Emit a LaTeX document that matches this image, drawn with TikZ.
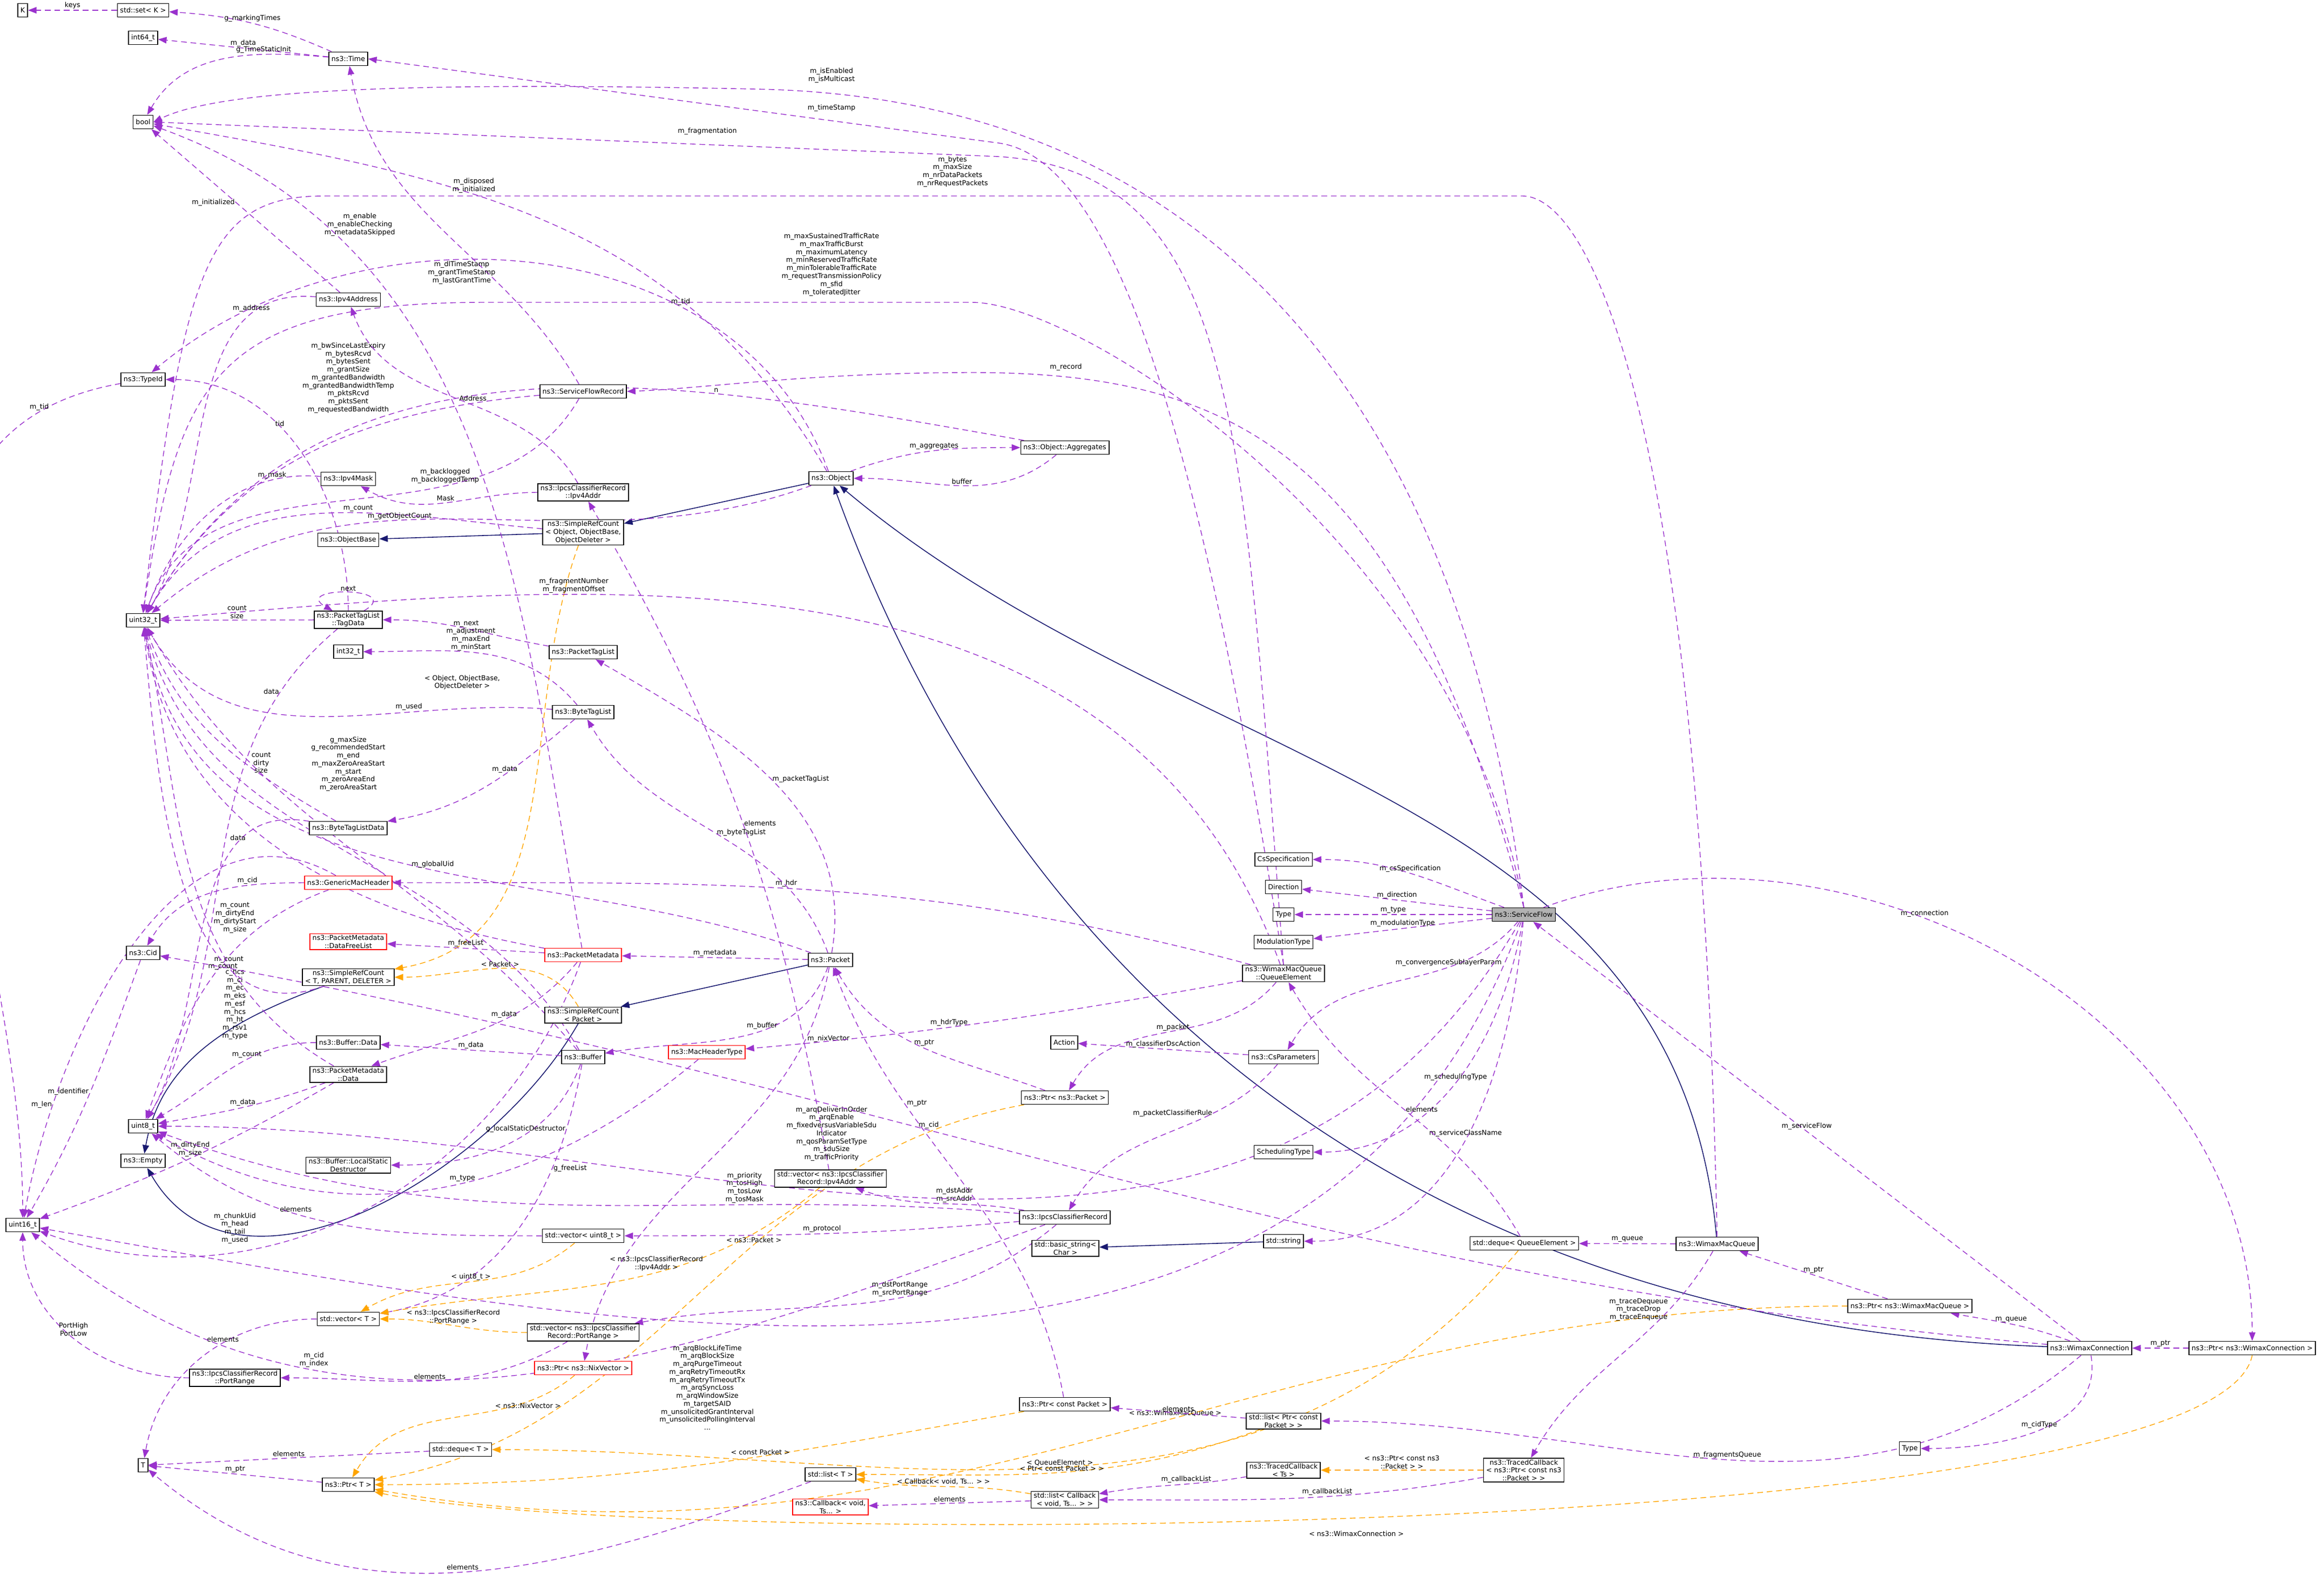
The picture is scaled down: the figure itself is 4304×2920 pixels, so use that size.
\documentclass[tikz,border=0pt]{standalone}
\usepackage{fontspec}
\setmainfont{DejaVu Sans}
\usetikzlibrary{arrows.meta}
\pgfdeclarelayer{bg}
\pgfsetlayers{bg,main}
\definecolor{pu}{RGB}{154,50,205}
\definecolor{og}{RGB}{255,165,0}
\definecolor{nv}{RGB}{25,25,112}
\tikzset{
 cls/.style={draw=black,line width=0.45pt,fill=white,minimum height=0.25cm,inner xsep=1.4pt,inner ysep=0.7pt,align=center,font=\fontsize{3.6}{4.2}\selectfont},
 redcls/.style={cls,draw=red},
 grcls/.style={cls,fill=black!30},
 pl/.style={draw=pu,dash pattern=on 3pt off 2pt,line width=0.4pt,-{Triangle[length=4.5pt,width=3.4pt]},fill=none},
 ol/.style={pl,draw=og},
 nl/.style={draw=nv,line width=0.45pt,-{Triangle[length=4.5pt,width=3.4pt]}},
 lbl/.style={font=\fontsize{3.6}{4.2}\selectfont,align=center,inner sep=0.6pt,text=black}
}
\begin{document}
\begin{tikzpicture}[x=0.01cm,y=-0.01cm]
\useasboundingbox (0,0) rectangle (4304,2920);
% nodes
\node[cls] (K) at (42,19) {K};
\node[cls] (setK) at (265,19) {std::set< K >};
\node[cls] (i64) at (265,70) {int64\_t};
\node[cls] (time) at (645,109) {ns3::Time};
\node[cls] (bool) at (265,226) {bool};
\node[cls] (typeid) at (265,703) {ns3::TypeId};
\node[cls] (ip4a) at (645,555) {ns3::Ipv4Address};
\node[cls] (sfr) at (1080,725) {ns3::ServiceFlowRecord};
\node[cls] (ip4m) at (645,887) {ns3::Ipv4Mask};
\node[cls] (ip4addr) at (1080,912) {ns3::IpcsClassifierRecord\\::Ipv4Addr};
\node[cls] (srco) at (1080,986) {ns3::SimpleRefCount\\< Object, ObjectBase,\\ObjectDeleter >};
\node[cls] (objbase) at (645,1000) {ns3::ObjectBase};
\node[cls] (obj) at (1539,886) {ns3::Object};
\node[cls] (aggr) at (1972,829) {ns3::Object::Aggregates};
\node[cls] (u32) at (265,1149) {uint32\_t};
\node[cls] (tagdata) at (645,1148) {ns3::PacketTagList\\::TagData};
\node[cls] (i32) at (645,1207) {int32\_t};
\node[cls] (ptl) at (1080,1208) {ns3::PacketTagList};
\node[cls] (btl) at (1080,1319) {ns3::ByteTagList};
\node[cls] (btld) at (645,1534) {ns3::ByteTagListData};
\node[redcls] (gmh) at (645,1635) {ns3::GenericMacHeader};
\node[cls] (cid) at (265,1765) {ns3::Cid};
\node[redcls] (dfl) at (645,1744) {ns3::PacketMetadata\\::DataFreeList};
\node[redcls] (pmd) at (1080,1769) {ns3::PacketMetadata};
\node[cls] (srct) at (645,1810) {ns3::SimpleRefCount\\< T, PARENT, DELETER >};
\node[cls] (srcp) at (1080,1880) {ns3::SimpleRefCount\\< Packet >};
\node[cls] (pkt) at (1538,1778) {ns3::Packet};
\node[cls] (csspec) at (2377,1592) {CsSpecification};
\node[cls] (dir) at (2377,1643) {Direction};
\node[cls] (type1) at (2377,1694) {Type};
\node[cls] (modt) at (2377,1745) {ModulationType};
\node[cls] (qe) at (2377,1803) {ns3::WimaxMacQueue\\::QueueElement};
\node[redcls] (mht) at (1309,1949) {ns3::MacHeaderType};
\node[cls] (bdata) at (645,1931) {ns3::Buffer::Data};
\node[cls] (pmdd) at (645,1990) {ns3::PacketMetadata\\::Data};
\node[cls] (buf) at (1080,1958) {ns3::Buffer};
\node[cls] (u8) at (265,2086) {uint8\_t};
\node[cls] (empty) at (265,2150) {ns3::Empty};
\node[cls] (lsd) at (645,2158) {ns3::Buffer::LocalStatic\\Destructor};
\node[cls] (u16) at (42,2269) {uint16\_t};
\node[cls] (vu8) at (1080,2289) {std::vector< uint8\_t >};
\node[cls] (vT) at (645,2443) {std::vector< T >};
\node[cls] (vpr) at (1080,2468) {std::vector< ns3::IpcsClassifier\\Record::PortRange >};
\node[cls] (pr) at (435,2552) {ns3::IpcsClassifierRecord\\::PortRange};
\node[redcls] (pnix) at (1080,2534) {ns3::Ptr< ns3::NixVector >};
\node[cls] (dqT) at (853,2685) {std::deque< T >};
\node[cls] (T) at (265,2714) {T};
\node[cls] (ptrT) at (645,2750) {ns3::Ptr< T >};
\node[cls] (action) at (1971,1931) {Action};
\node[cls] (csp) at (2377,1958) {ns3::CsParameters};
\node[cls] (pptk) at (1972,2033) {ns3::Ptr< ns3::Packet >};
\node[cls] (schedt) at (2377,2134) {SchedulingType};
\node[cls] (vip) at (1538,2183) {std::vector< ns3::IpcsClassifier\\Record::Ipv4Addr >};
\node[cls] (icr) at (1972,2255) {ns3::IpcsClassifierRecord};
\node[cls] (bstr) at (1973,2312) {std::basic\_string<\\Char >};
\node[cls] (str) at (2377,2299) {std::string};
\node[cls] (dqqe) at (2823,2303) {std::deque< QueueElement >};
\node[cls] (pcpk) at (1972,2601) {ns3::Ptr< const Packet >};
\node[cls] (lpcp) at (2377,2632) {std::list< Ptr< const\\Packet > >};
\node[cls] (tcts) at (2377,2723) {ns3::TracedCallback\\< Ts >};
\node[cls] (lT) at (1538,2731) {std::list< T >};
\node[cls] (lcb) at (1972,2778) {std::list< Callback\\< void, Ts... > >};
\node[redcls] (cb) at (1538,2791) {ns3::Callback< void,\\Ts... >};
\node[cls] (tcp) at (2822,2723) {ns3::TracedCallback\\< ns3::Ptr< const ns3\\::Packet > >};
\node[grcls] (sf) at (2822,1694) {ns3::ServiceFlow};
\node[cls] (wmq) at (3180,2304) {ns3::WimaxMacQueue};
\node[cls] (pwmq) at (3537,2419) {ns3::Ptr< ns3::WimaxMacQueue >};
\node[cls] (wc) at (3870,2497) {ns3::WimaxConnection};
\node[cls] (pwc) at (4171,2497) {ns3::Ptr< ns3::WimaxConnection >};
\node[cls] (type2) at (3537,2683) {Type};

\begin{pgfonlayer}{bg}
% inheritance
\draw[nl] (obj) -- (srco);
\draw[nl] (srco) -- (objbase);
\draw[nl] (pkt) -- (srcp);
\draw[nl] (srct) to[out=200,in=80] (empty);
\draw[nl] (srcp) to[out=240,in=-60] (empty);
\draw[nl] (str) -- (bstr);
\draw[nl] (wmq) to[out=95,in=-40] (obj);
\draw[nl] (wc) to[out=178,in=-70] (obj);

% long routed members with free labels
\draw[pl] (sf.north) .. controls (2700,700) and (2200,180) .. (1400,165) .. controls (700,150) and (400,170) .. (bool.east);
\node[lbl] (lb1) at (1540,140) {m\_isEnabled\\m\_isMulticast};
\draw[pl] (qe.north) .. controls (2250,1000) and (2100,300) .. (1850,265) -- (time.east);
\node[lbl] (lb2) at (1540,200) {m\_timeStamp};
\draw[pl] (qe.north) .. controls (2300,800) and (2300,320) .. (1850,290) -- (bool.east);
\node[lbl] (lb3) at (1310,243) {m\_fragmentation};
\draw[pl] (wmq.north) .. controls (3150,800) and (2950,365) .. (2820,363) -- (600,363) .. controls (380,363) and (340,500) .. (u32.north);
\node[lbl] (lb4) at (1764,318) {m\_bytes\\m\_maxSize\\m\_nrDataPackets\\m\_nrRequestPackets};
\draw[pl] (sf.north) .. controls (2700,1000) and (2000,560) .. (1800,560) -- (900,560) .. controls (400,560) and (330,700) .. (u32.north);
\node[lbl] (lb5) at (1540,490) {m\_maxSustainedTrafficRate\\m\_maxTrafficBurst\\m\_maximumLatency\\m\_minReservedTrafficRate\\m\_minTolerableTrafficRate\\m\_requestTransmissionPolicy\\m\_sfid\\m\_toleratedJitter};
\draw[pl] (sf.north) .. controls (2600,850) and (2300,690) .. (1800,690) .. controls (1500,690) and (1300,720) .. (sfr.east);
\node[lbl] (lb6) at (1974,680) {m\_record};
\draw[ol] (srco) to[out=-110,in=10] (srct);
\node[lbl] (lb7) at (856,1264) {< Object, ObjectBase,\\ObjectDeleter >};
\draw[ol] (pwc.south) .. controls (4100,2860) and (1200,2870) .. (ptrT.south east);
\node[lbl] (lb8) at (2512,2841) {< ns3::WimaxConnection >};

% members
\draw[pl] (setK) -- node[lbl,above]{keys} (K);
\draw[pl] (time) to[bend right=10] node[lbl,above]{g\_markingTimes} (setK);
\draw[pl] (time) -- node[lbl,above]{m\_data} (i64);
\draw[pl] (time) to[out=175,in=60] node[lbl,above,pos=.3]{g\_TimeStaticInit} (bool);
\draw[pl] (obj) to[out=120,in=-10] node[lbl,pos=.6,above]{m\_disposed\\m\_initialized} (bool);
\draw[pl] (ip4a) -- node[lbl,pos=.55,left]{m\_initialized} (bool);
\draw[pl] (pmd) to[out=100,in=-20] node[lbl,pos=.8,right]{m\_enable\\m\_enableChecking\\m\_metadataSkipped} (bool);
\draw[pl] (obj) to[out=110,in=40] node[lbl,pos=.3,above]{m\_tid} (typeid);
\draw[pl] (sfr) to[out=120,in=-80] (time);
\node[lbl] (lb9) at (855,505) {m\_dlTimeStamp\\m\_grantTimeStamp\\m\_lastGrantTime};
\draw[pl] (ip4a) to[out=175,in=60] node[lbl,pos=.2,above]{m\_address} (u32);
\draw[pl] (typeid) to[out=190,in=90] node[lbl,pos=.1,above]{m\_tid} (u16);
\draw[pl] (tagdata) to[out=90,in=0] node[lbl,pos=.6,above]{tid} (typeid);
\draw[pl] (sfr) to[out=185,in=60] (u32);
\node[lbl] (lb10) at (645,700) {m\_bwSinceLastExpiry\\m\_bytesRcvd\\m\_bytesSent\\m\_grantSize\\m\_grantedBandwidth\\m\_grantedBandwidthTemp\\m\_pktsRcvd\\m\_pktsSent\\m\_requestedBandwidth};
\draw[pl] (qe) to[out=110,in=5] node[lbl,pos=.7,above]{m\_fragmentNumber\\m\_fragmentOffset} (u32);
\draw[pl] (aggr) to[out=170,in=60] node[lbl,pos=.3,above]{n} (u32);
\draw[pl] (ip4m) to[out=175,in=70] node[lbl,pos=.2,above]{m\_mask} (u32);
\draw[pl] (ip4addr) to[out=120,in=-70] node[lbl,pos=.5,right]{Address} (ip4a);
\draw[pl] (ip4addr) to[out=180,in=-30] node[lbl,pos=.5,above]{Mask} (ip4m);
\draw[pl] (sfr) to[out=240,in=70] node[lbl,pos=.25,left]{m\_backlogged\\m\_backloggedTemp} (u32);
\draw[pl] (gmh) to[out=150,in=80] node[lbl,pos=.8,left]{m\_len} (u16);
\draw[pl] (srco) to[out=175,in=60] node[lbl,pos=.4,above]{m\_count} (u32);
\draw[pl] (obj) to[out=200,in=40] node[lbl,pos=.6,above]{m\_getObjectCount} (u32);
\draw[pl] (obj) to[out=20,in=180] node[lbl,above]{m\_aggregates} (aggr);
\draw[pl] (aggr) to[out=220,in=0] node[lbl,above]{buffer} (obj);
\draw[pl] (tagdata) -- node[lbl,above]{count\\size} (u32);
\draw[pl] (tagdata) to[out=30,in=150,looseness=4] node[lbl,above]{next} (tagdata);
\draw[pl] (tagdata) to[out=220,in=60] node[lbl,pos=.15,left]{data} (u8);
\draw[pl] (ptl) to[out=170,in=0] node[lbl,above]{m\_next} (tagdata);
\draw[pl] (btl) to[out=130,in=0] node[lbl,pos=.55,above]{m\_adjustment\\m\_maxEnd\\m\_minStart} (i32);
\draw[pl] (btl) to[out=175,in=-60] node[lbl,pos=.3,above]{m\_used} (u32);
\draw[pl] (buf) to[out=130,in=-60] node[lbl,pos=.55,above]{m\_maxSize} (u32);
\draw[pl] (btl) to[out=220,in=10] node[lbl,pos=.4,above]{m\_data} (btld);
\draw[pl] (btld) to[out=150,in=-70] node[lbl,pos=.3,above]{count\\dirty\\size} (u32);
\draw[pl] (btld) to[out=170,in=60] node[lbl,pos=.25,above]{data} (u8);
\draw[pl] (buf) to[out=120,in=-75] (u32);
\node[lbl] (lb11) at (645,1415) {g\_maxSize\\g\_recommendedStart\\m\_end\\m\_maxZeroAreaStart\\m\_start\\m\_zeroAreaEnd\\m\_zeroAreaStart};
\draw[pl] (pmdd) to[out=150,in=-78] node[lbl,pos=.3,above]{m\_count} (u32);
\draw[pl] (gmh) to[out=180,in=60] node[lbl,pos=.3,above]{m\_cid} (cid);
\draw[pl] (pkt) to[out=160,in=-80] node[lbl,pos=.45,above]{m\_globalUid} (u32);
\draw[pl] (qe) to[out=165,in=0] node[lbl,pos=.55,above]{m\_hdr} (gmh);
\draw[pl] (pmd) to[out=170,in=-82] (u32);
\node[lbl] (lb12) at (435,1700) {m\_count\\m\_dirtyEnd\\m\_dirtyStart\\m\_size};
\draw[pl] (gmh) to[out=200,in=70] (u8);
\node[lbl] (lb13) at (435,1860) {c\_hcs\\m\_ci\\m\_ec\\m\_eks\\m\_esf\\m\_hcs\\m\_ht\\m\_rsv1\\m\_type};
\draw[pl] (pmd) -- node[lbl,above]{m\_freeList} (dfl);
\draw[pl] (pkt) -- node[lbl,above]{m\_metadata} (pmd);
\draw[ol] (srcp) to[out=120,in=0] node[lbl,above,pos=.5]{< Packet >} (srct);
\draw[pl] (pmd) to[out=230,in=20] node[lbl,pos=.4,above]{m\_data} (pmdd);
\draw[pl] (srct) to[out=200,in=-85] node[lbl,pos=.3,below]{m\_count} (u32);
\draw[pl] (pkt) to[out=80,in=-30] node[lbl,pos=.5,right]{m\_packetTagList} (ptl);
\draw[pl] (pkt) to[out=110,in=-60] node[lbl,pos=.5,right]{m\_byteTagList} (btl);
\draw[pl] (pkt) to[out=250,in=10] node[lbl,pos=.4,above]{m\_buffer} (buf);
\draw[pl] (pkt) to[out=260,in=80] node[lbl,pos=.15,right]{m\_nixVector} (pnix);
\draw[pl] (buf) -- node[lbl,above]{m\_data} (bdata);
\draw[pl] (bdata) to[out=180,in=30] node[lbl,pos=.4,above]{m\_count} (u8);
\draw[pl] (pmdd) to[out=200,in=10] node[lbl,pos=.5,above]{m\_data} (u8);
\draw[pl] (buf) to[out=250,in=0] node[lbl,pos=.4,above]{g\_localStaticDestructor} (lsd);
\draw[pl] (buf) to[out=260,in=10] node[lbl,pos=.3,right]{g\_freeList} (vT);
\draw[pl] (mht) to[out=220,in=-30] node[lbl,pos=.45,above]{m\_type} (u8);
\draw[pl] (pmdd) to[out=210,in=20] node[lbl,pos=.5,above]{m\_dirtyEnd\\m\_size} (u16);
\draw[pl] (pmd) to[out=250,in=-20] (u16);
\node[lbl] (lb14) at (435,2275) {m\_chunkUid\\m\_head\\m\_tail\\m\_used};
\draw[pl] (icr) to[out=175,in=-20] node[lbl,pos=.3,above]{m\_priority\\m\_tosHigh\\m\_tosLow\\m\_tosMask} (u8);
\draw[pl] (icr) to[out=185,in=0] node[lbl,pos=.5,above]{m\_protocol} (vu8);
\draw[ol] (vu8) to[out=220,in=30] node[lbl,pos=.5,above]{< uint8\_t >} (vT);
\draw[pl] (vu8) to[out=180,in=-40] node[lbl,pos=.6,above]{elements} (u8);
\draw[ol] (vip) to[out=220,in=10] node[lbl,pos=.4,above]{< ns3::IpcsClassifierRecord\\::Ipv4Addr >} (vT);
\draw[pl] (vip) to[out=100,in=-60] node[lbl,pos=.5,right]{elements} (ip4addr);
\draw[ol] (vpr) to[out=180,in=0] node[lbl,pos=.5,above]{< ns3::IpcsClassifierRecord\\::PortRange >} (vT);
\draw[pl] (vpr) to[out=210,in=0] node[lbl,pos=.5,above]{elements} (pr);
\draw[pl] (vT) to[out=180,in=80] node[lbl,pos=.4,above]{elements} (T);
\draw[pl] (icr) to[out=200,in=-40] node[lbl,pos=.7,above]{m\_cid\\m\_index} (u16);
\draw[pl] (pr) to[out=180,in=-90] node[lbl,pos=.5,above]{PortHigh\\PortLow} (u16);
\draw[pl] (cid) to[out=250,in=60] node[lbl,pos=.5,left]{m\_identifier} (u16);
\draw[pl] (sf) to[out=250,in=-10] (u16);
\node[lbl] (lb15) at (1310,2570) {m\_arqBlockLifeTime\\m\_arqBlockSize\\m\_arqPurgeTimeout\\m\_arqRetryTimeoutRx\\m\_arqRetryTimeoutTx\\m\_arqSyncLoss\\m\_arqWindowSize\\m\_targetSAID\\m\_unsolicitedGrantInterval\\m\_unsolicitedPollingInterval\\...};
\draw[ol] (pnix) to[out=220,in=60] node[lbl,pos=.2,below]{< ns3::NixVector >} (ptrT);
\draw[pl] (dqT) -- node[lbl,above]{elements} (T);
\draw[pl] (ptrT) -- node[lbl,above]{m\_ptr} (T);
\draw[ol] (dqqe) to[out=230,in=0] node[lbl,pos=.5,above]{< QueueElement >} (dqT);
\draw[ol] (pptk) to[out=190,in=10] node[lbl,pos=.4,above]{< ns3::Packet >} (ptrT);
\draw[ol] (pcpk) to[out=190,in=0] node[lbl,pos=.4,above]{< const Packet >} (ptrT);
\draw[ol] (pwmq) to[out=180,in=-10] node[lbl,pos=.45,above]{< ns3::WimaxMacQueue >} (ptrT);
\draw[pl] (lT) to[out=200,in=-40] node[lbl,pos=.5,above]{elements} (T);
\draw[pl] (lcb) -- node[lbl,above]{elements} (cb);
\draw[ol] (lpcp) to[out=200,in=0] node[lbl,pos=.5,above]{< Ptr< const Packet > >} (lT);
\draw[ol] (lcb) to[out=170,in=-10] node[lbl,pos=.5,above]{< Callback< void, Ts... > >} (lT);
\draw[pl] (lpcp) -- node[lbl,above]{elements} (pcpk);
\draw[pl] (pcpk) to[out=100,in=-70] node[lbl,pos=.7,right]{m\_ptr} (pkt);
\draw[pl] (pptk) to[out=160,in=-60] node[lbl,pos=.5,above]{m\_ptr} (pkt);
\draw[pl] (qe) to[out=230,in=60] node[lbl,pos=.4,left]{m\_packet} (pptk);
\draw[pl] (qe) to[out=190,in=5] node[lbl,pos=.6,above]{m\_hdrType} (mht);
\draw[pl] (csp) -- node[lbl,above]{m\_classifierDscAction} (action);
\draw[pl] (csp) to[out=230,in=60] node[lbl,pos=.3,left]{m\_packetClassifierRule} (icr);
\draw[pl] (sf) to[out=230,in=60] node[lbl,pos=.3,above]{m\_convergenceSublayerParam} (csp);
\draw[pl] (icr) to[out=170,in=-20] node[lbl,pos=.4,above]{m\_dstAddr\\m\_srcAddr} (vip);
\draw[pl] (icr) to[out=220,in=10] node[lbl,pos=.4,above]{m\_dstPortRange\\m\_srcPortRange} (vpr);
\draw[pl] (sf) to[out=240,in=0] (u8);
\node[lbl] (lb16) at (1540,2100) {m\_arqDeliverInOrder\\m\_arqEnable\\m\_fixedversusVariableSdu\\Indicator\\m\_qosParamSetType\\m\_sduSize\\m\_trafficPriority};
\draw[pl] (sf) to[out=260,in=0] node[lbl,pos=.5,above]{m\_schedulingType} (schedt);
\draw[pl] (sf) to[out=265,in=0] node[lbl,pos=.5,above]{m\_serviceClassName} (str);
\draw[pl] (wc) to[out=175,in=-10] node[lbl,pos=.6,above]{m\_cid} (cid);
\draw[pl] (dqqe) to[out=120,in=-60] node[lbl,pos=.5,right]{elements} (qe);
\draw[pl] (wmq) -- node[lbl,above]{m\_queue} (dqqe);
\draw[pl] (wmq) to[out=240,in=60] node[lbl,pos=.25,left]{m\_traceDequeue\\m\_traceDrop\\m\_traceEnqueue} (tcp);
\draw[pl] (pwmq) -- node[lbl,above]{m\_ptr} (wmq);
\draw[pl] (wc) to[out=160,in=-10] node[lbl,above]{m\_queue} (pwmq);
\draw[pl] (wc) -- node[lbl,above,pos=.5]{m\_serviceFlow} (sf);
\draw[pl] (sf) to[out=20,in=90] node[lbl,pos=.4,above]{m\_connection} (pwc);
\draw[pl] (pwc) -- node[lbl,above]{m\_ptr} (wc);
\draw[pl] (wc) to[out=220,in=0] node[lbl,pos=.5,above]{m\_fragmentsQueue} (lpcp);
\draw[pl] (wc) to[out=-80,in=0] node[lbl,pos=.5,above]{m\_cidType} (type2);
\draw[ol] (tcp) -- node[lbl,above]{< ns3::Ptr< const ns3\\::Packet > >} (tcts);
\draw[pl] (tcts) to[out=190,in=10] node[lbl,pos=.4,above]{m\_callbackList} (lcb);
\draw[pl] (tcp) to[out=190,in=0] node[lbl,pos=.4,above]{m\_callbackList} (lcb);
\draw[pl] (sf) to[out=160,in=0] node[lbl,above]{m\_csSpecification} (csspec);
\draw[pl] (sf) -- node[lbl,above]{m\_direction} (dir);
\draw[pl] (sf) -- node[lbl,above]{m\_type} (type1);
\draw[pl] (sf) -- node[lbl,above]{m\_modulationType} (modt);
\end{pgfonlayer}
\end{tikzpicture}
\end{document}
